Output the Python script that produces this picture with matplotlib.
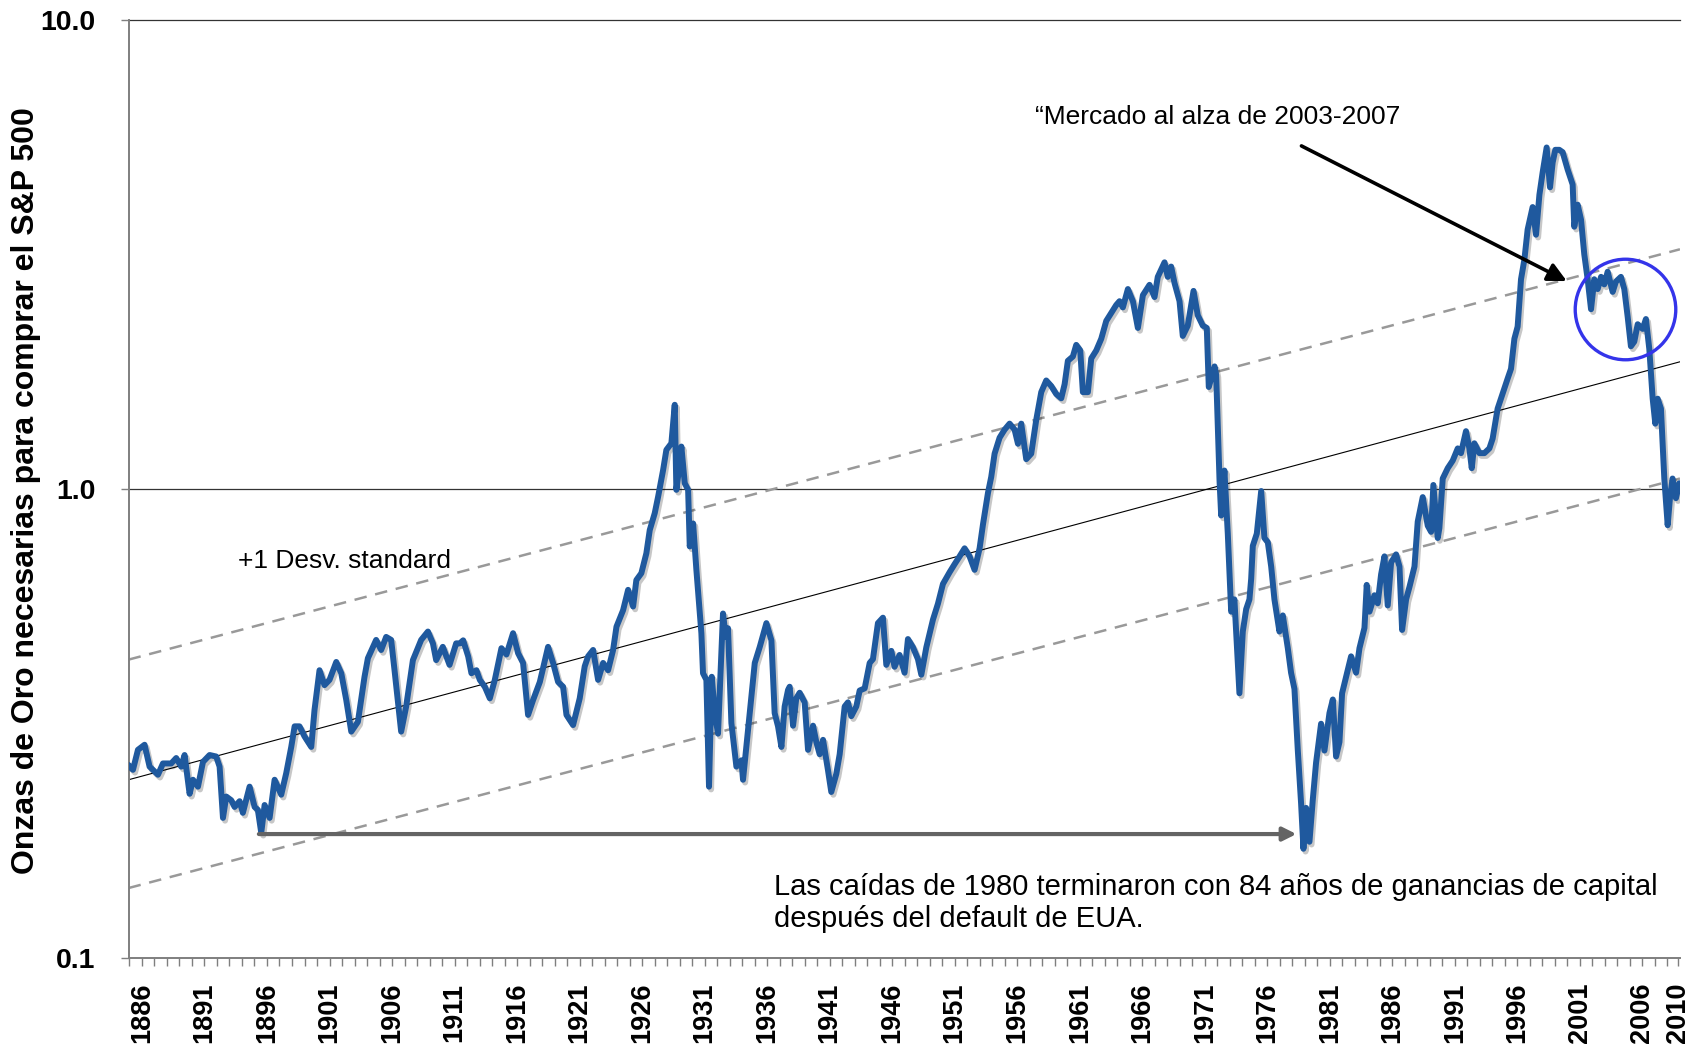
"""Ounces of gold needed to buy the S&P 500, log scale, 1885-2009, with trend band."""

import matplotlib

matplotlib.use("Agg")
import matplotlib.patheffects as pe
import matplotlib.pyplot as plt
from matplotlib.ticker import FixedLocator, NullLocator
import numpy as np

# --- ratio series (x in axis years, y = ounces of gold) ---
years_1885_1911 = [
    1884.93, 1885.28, 1885.68, 1886.21, 1886.61, 1887.28, 1887.68, 1888.34, 1888.74, 1889.14,
    1889.41, 1889.81, 1890.08, 1890.48, 1890.88, 1891.41, 1891.94, 1892.21, 1892.48, 1892.74,
    1893.14, 1893.41, 1893.81, 1894.07, 1894.61, 1895.01, 1895.27, 1895.54, 1895.81, 1896.21,
    1896.61, 1897.14, 1897.54, 1897.94, 1898.21, 1898.60, 1899.00, 1899.54, 1899.80, 1900.20,
    1900.60, 1901.00, 1901.54, 1901.94, 1902.34, 1902.74, 1903.27, 1903.80, 1904.07, 1904.73,
    1905.13, 1905.53, 1905.93, 1906.20, 1906.73, 1907.13, 1907.67, 1908.33, 1908.87, 1909.27,
    1909.53, 1910.06, 1910.60, 1911.13,
]
ratio_1885_1911 = [
    0.258, 0.252, 0.278, 0.285, 0.256, 0.246, 0.260, 0.260, 0.267, 0.256,
    0.271, 0.224, 0.240, 0.232, 0.262, 0.271, 0.269, 0.256, 0.199, 0.221,
    0.217, 0.210, 0.216, 0.204, 0.232, 0.210, 0.207, 0.185, 0.212, 0.199,
    0.240, 0.223, 0.248, 0.282, 0.312, 0.312, 0.297, 0.282, 0.338, 0.411,
    0.382, 0.392, 0.428, 0.405, 0.355, 0.304, 0.319, 0.398, 0.436, 0.477,
    0.454, 0.484, 0.477, 0.411, 0.304, 0.344, 0.432, 0.477, 0.497, 0.469,
    0.432, 0.461, 0.422, 0.469,
]

years_1911_1937 = [
    1911.42, 1911.69, 1912.09, 1912.35, 1912.75, 1913.02, 1913.42, 1913.82, 1914.22, 1914.75,
    1915.15, 1915.68, 1916.08, 1916.48, 1916.88, 1917.28, 1917.82, 1918.48, 1918.88, 1919.28,
    1919.68, 1919.95, 1920.48, 1921.01, 1921.41, 1921.68, 1922.08, 1922.48, 1922.88, 1923.28,
    1923.68, 1923.95, 1924.48, 1924.88, 1925.28, 1925.54, 1925.94, 1926.34, 1926.61, 1927.01,
    1927.28, 1927.68, 1927.94, 1928.34, 1928.61, 1928.74, 1929.01, 1929.14, 1929.41, 1929.68,
    1929.81, 1930.08, 1930.34, 1930.74, 1930.87, 1931.14, 1931.35, 1931.57, 1931.81, 1932.07,
    1932.47, 1932.69, 1932.87, 1933.14, 1933.54, 1933.94, 1934.07, 1934.61, 1935.01, 1935.41,
    1935.94, 1936.34, 1936.60, 1936.87, 1937.14, 1937.40, 1937.67,
]
ratio_1911_1937 = [
    0.469, 0.476, 0.440, 0.405, 0.411, 0.392, 0.379, 0.358, 0.392, 0.458,
    0.444, 0.493, 0.447, 0.426, 0.330, 0.355, 0.388, 0.461, 0.426, 0.388,
    0.379, 0.330, 0.314, 0.358, 0.419, 0.440, 0.454, 0.392, 0.426, 0.411,
    0.454, 0.509, 0.552, 0.610, 0.562, 0.640, 0.662, 0.730, 0.818, 0.889,
    0.964, 1.099, 1.213, 1.253, 1.514, 0.997, 1.135, 1.233, 1.030, 0.997,
    0.755, 0.845, 0.673, 0.493, 0.405, 0.392, 0.232, 0.398, 0.333, 0.301,
    0.543, 0.484, 0.505, 0.317, 0.256, 0.264, 0.240, 0.333, 0.426, 0.461,
    0.518, 0.476, 0.333, 0.312, 0.282, 0.344, 0.373,
]

years_1937_1963 = [
    1937.80, 1938.07, 1938.33, 1938.60, 1939.00, 1939.27, 1939.67, 1939.93, 1940.20, 1940.47,
    1940.86, 1941.13, 1941.53, 1941.80, 1942.20, 1942.46, 1942.73, 1943.13, 1943.40, 1943.80,
    1944.20, 1944.46, 1944.86, 1945.26, 1945.53, 1945.93, 1946.19, 1946.59, 1946.99, 1947.26,
    1947.66, 1948.06, 1948.33, 1948.73, 1949.26, 1949.66, 1950.06, 1950.59, 1950.99, 1951.39,
    1951.79, 1952.19, 1952.59, 1952.99, 1953.26, 1953.66, 1953.92, 1954.19, 1954.59, 1954.99,
    1955.39, 1955.79, 1956.06, 1956.32, 1956.72, 1957.12, 1957.52, 1957.92, 1958.32, 1958.72,
    1959.12, 1959.52, 1959.79, 1960.05, 1960.45, 1960.72, 1961.04, 1961.25, 1961.65, 1961.92,
    1962.32, 1962.72, 1963.12, 1963.52, 1963.92,
]
ratio_1937_1963 = [
    0.379, 0.313, 0.358, 0.368, 0.351, 0.278, 0.313, 0.289, 0.272, 0.292,
    0.252, 0.226, 0.247, 0.272, 0.344, 0.351, 0.328, 0.344, 0.372, 0.376,
    0.426, 0.434, 0.518, 0.532, 0.422, 0.452, 0.418, 0.443, 0.406, 0.479,
    0.460, 0.434, 0.402, 0.460, 0.527, 0.570, 0.628, 0.665, 0.692, 0.719,
    0.748, 0.719, 0.673, 0.748, 0.841, 0.982, 1.062, 1.191, 1.288, 1.340,
    1.380, 1.340, 1.250, 1.380, 1.159, 1.191, 1.406, 1.611, 1.706, 1.660,
    1.596, 1.563, 1.675, 1.879, 1.919, 2.032, 1.977, 1.611, 1.611, 1.901,
    1.977, 2.094, 2.286, 2.377, 2.472,
]

years_1964_1989 = [
    1964.18, 1964.45, 1964.85, 1965.25, 1965.65, 1966.05, 1966.58, 1966.98, 1967.24, 1967.78,
    1968.04, 1968.31, 1968.58, 1968.98, 1969.24, 1969.64, 1970.10, 1970.44, 1970.84, 1971.16,
    1971.32, 1971.78, 1971.91, 1972.18, 1972.31, 1972.57, 1972.84, 1973.11, 1973.37, 1973.77,
    1974.04, 1974.31, 1974.57, 1974.71, 1974.84, 1975.16, 1975.51, 1975.77, 1976.04, 1976.31,
    1976.57, 1976.97, 1977.24, 1977.64, 1977.90, 1978.17, 1978.44, 1978.70, 1978.89, 1979.10,
    1979.37, 1979.64, 1979.90, 1980.30, 1980.57, 1980.97, 1981.24, 1981.50, 1981.77, 1981.98,
    1982.30, 1982.70, 1983.10, 1983.37, 1983.77, 1983.95, 1984.17, 1984.57, 1984.83, 1985.10,
    1985.37, 1985.63, 1985.90, 1986.30, 1986.57, 1986.78, 1987.10, 1987.37, 1987.77, 1988.03,
    1988.43, 1988.83, 1989.10, 1989.28, 1989.63,
]
ratio_1964_1989 = [
    2.518, 2.443, 2.673, 2.518, 2.208, 2.594, 2.729, 2.570, 2.838, 3.048,
    2.838, 2.985, 2.754, 2.518, 2.123, 2.234, 2.649, 2.350, 2.234, 2.208,
    1.652, 1.828, 1.754, 1.042, 0.879, 1.096, 0.804, 0.548, 0.582, 0.367,
    0.497, 0.555, 0.582, 0.644, 0.757, 0.804, 0.991, 0.787, 0.771, 0.684,
    0.582, 0.497, 0.538, 0.458, 0.406, 0.375, 0.277, 0.214, 0.171, 0.209,
    0.177, 0.218, 0.261, 0.316, 0.277, 0.333, 0.356, 0.269, 0.289, 0.367,
    0.398, 0.440, 0.406, 0.458, 0.506, 0.625, 0.548, 0.594, 0.571, 0.658,
    0.719, 0.565, 0.698, 0.726, 0.684, 0.501, 0.582, 0.619, 0.684, 0.853,
    0.962, 0.836, 0.811, 1.021, 0.787,
]

years_1990_2009 = [
    1989.76, 1990.03, 1990.43, 1990.83, 1991.23, 1991.49, 1991.89, 1992.16, 1992.35, 1992.56,
    1992.96, 1993.36, 1993.76, 1994.02, 1994.42, 1994.82, 1995.22, 1995.49, 1995.76, 1996.02,
    1996.29, 1996.56, 1996.82, 1997.22, 1997.49, 1997.76, 1998.02, 1998.34, 1998.61, 1998.82,
    1999.03, 1999.35, 1999.62, 2000.02, 2000.42, 2000.55, 2000.82, 2001.09, 2001.35, 2001.62,
    2001.89, 2002.15, 2002.42, 2002.69, 2002.95, 2003.22, 2003.62, 2003.88, 2004.28, 2004.55,
    2004.82, 2005.08, 2005.35, 2005.62, 2006.02, 2006.28, 2006.55, 2006.82, 2007.03, 2007.22,
    2007.48, 2007.75, 2008.02, 2008.20, 2008.41, 2008.68, 2008.95,
]
ratio_1990_2009 = [
    0.826, 1.054, 1.109, 1.151, 1.222, 1.194, 1.330, 1.222, 1.109, 1.253,
    1.194, 1.194, 1.222, 1.282, 1.486, 1.600, 1.722, 1.807, 2.094, 2.223,
    2.805, 3.090, 3.581, 3.999, 3.491, 4.246, 4.742, 5.358, 4.406, 4.977,
    5.297, 5.297, 5.236, 4.808, 4.467, 3.631, 4.046, 3.758, 3.170, 2.805,
    2.421, 2.805, 2.673, 2.838, 2.735, 2.911, 2.636, 2.773, 2.838, 2.673,
    2.333, 2.018, 2.065, 2.249, 2.198, 2.307, 1.991, 1.560, 1.380, 1.560,
    1.486, 1.054, 0.838, 0.957, 1.054, 0.957, 1.030,
]

# --- log-linear trend and +/- 1 standard deviation band (end points) ---
band_years = [1884.93, 2009.0]
trend_center = [0.240, 1.87]
trend_upper = [0.433, 3.25]
trend_lower = [0.141, 1.054]

# --- axis ticks ---
tick_years = [1886, 1891, 1896, 1901, 1906, 1911, 1916, 1921, 1926, 1931, 1936, 1941, 1946,
              1951, 1956, 1961, 1966, 1971, 1976, 1981, 1986, 1991, 1996, 2001, 2006, 2008.85]
tick_labels = ["1886", "1891", "1896", "1901", "1906", "1911", "1916", "1921", "1926", "1931",
               "1936", "1941", "1946", "1951", "1956", "1961", "1966", "1971", "1976", "1981",
               "1986", "1991", "1996", "2001", "2006", "2010"]
y_ticks = [0.1, 1.0, 10.0]
y_tick_labels = ["0.1", "1.0", "10.0"]

BLUE = "#1f599e"
AXIS_GREY = "#7f7f7f"


def _annotate(ax):
    # bull market 2003-2007 callout
    ax.text(0.584, 0.897, "\u201cMercado al alza de 2003-2007", transform=ax.transAxes,
            fontsize=19, ha="left", va="center")
    ax.annotate("", xy=(1999.95, 2.78), xytext=(1978.73, 5.40),
                arrowprops=dict(arrowstyle="-|>", color="black", lw=2.6,
                                mutation_scale=28, shrinkA=0, shrinkB=0))
    ax.plot([2004.58], [2.418], marker="o", ms=72.4, mfc="none",
            mec="#3434ea", mew=2.4, zorder=6)

    ax.text(0.0703, 0.4235, "+1 Desv. standard", transform=ax.transAxes,
            fontsize=19, ha="left", va="center")

    # 1896 low -> 1980 low
    ax.annotate("", xy=(1978.33, 0.1838), xytext=(1895.35, 0.1838),
                arrowprops=dict(arrowstyle="-|>", color="#646464", lw=3.0,
                                mutation_scale=20, shrinkA=0, shrinkB=0), zorder=5)
    ax.text(0.4158, 0.0589,
            "Las ca\u00eddas de 1980 terminaron con 84 a\u00f1os de ganancias de capital\n"
            "despu\u00e9s del default de EUA.",
            transform=ax.transAxes, fontsize=21, ha="left", va="center", linespacing=1.2)


def main() -> int:
    plt.rcParams.update({"font.family": ["Liberation Sans", "DejaVu Sans"]})

    years = np.concatenate([years_1885_1911, years_1911_1937, years_1937_1963,
                            years_1964_1989, years_1990_2009])
    ratio = np.concatenate([ratio_1885_1911, ratio_1911_1937, ratio_1937_1963,
                            ratio_1964_1989, ratio_1990_2009])

    fig = plt.figure(figsize=(16.94, 10.44), dpi=100)
    ax = fig.add_axes([0.0759, 0.0824, 0.9158, 0.898])

    ax.axhline(1.0, color="#333333", lw=0.9, zorder=1)
    ax.axhline(10.0, color="#333333", lw=0.9, zorder=1, clip_on=False)

    ax.plot(band_years, trend_upper, color="#999999", lw=1.8, dashes=(5, 3.5), zorder=2)
    ax.plot(band_years, trend_lower, color="#999999", lw=1.8, dashes=(5, 3.5), zorder=2)
    ax.plot(band_years, trend_center, color="black", lw=0.8, zorder=2)

    ax.plot(years, ratio, color=BLUE, lw=4.3, solid_joinstyle="round",
            solid_capstyle="round", zorder=3,
            path_effects=[pe.SimpleLineShadow(offset=(1.5, -2), alpha=0.22), pe.Normal()])

    ax.set_yscale("log")
    ax.set_ylim(0.1, 10.0)
    ax.set_xlim(band_years[0], band_years[1])

    ax.set_yticks(y_ticks)
    ax.set_yticklabels(y_tick_labels, fontsize=20.5, fontweight="bold")
    ax.yaxis.set_minor_locator(NullLocator())
    ax.tick_params(axis="y", direction="out", length=6, width=1, color=AXIS_GREY, pad=18)

    ax.set_xticks(tick_years)
    ax.set_xticklabels(tick_labels, rotation=90, fontsize=19.5, fontweight="bold")
    ax.xaxis.set_minor_locator(FixedLocator(np.arange(1885, 2009)))
    ax.tick_params(axis="x", which="both", direction="out", length=6, width=1,
                   color=AXIS_GREY, pad=12)

    for side in ("top", "right"):
        ax.spines[side].set_visible(False)
    for side in ("left", "bottom"):
        ax.spines[side].set_color(AXIS_GREY)
        ax.spines[side].set_linewidth(1.4)

    fig.text(0.0152, 0.530, "Onzas de Oro necesarias para comprar el S&P 500",
             rotation=90, ha="center", va="center", fontsize=23, fontweight="bold")

    _annotate(ax)

    fig.savefig("out.png", dpi=100)
    plt.close(fig)
    return 0


if __name__ == "__main__":
    raise SystemExit(main())
